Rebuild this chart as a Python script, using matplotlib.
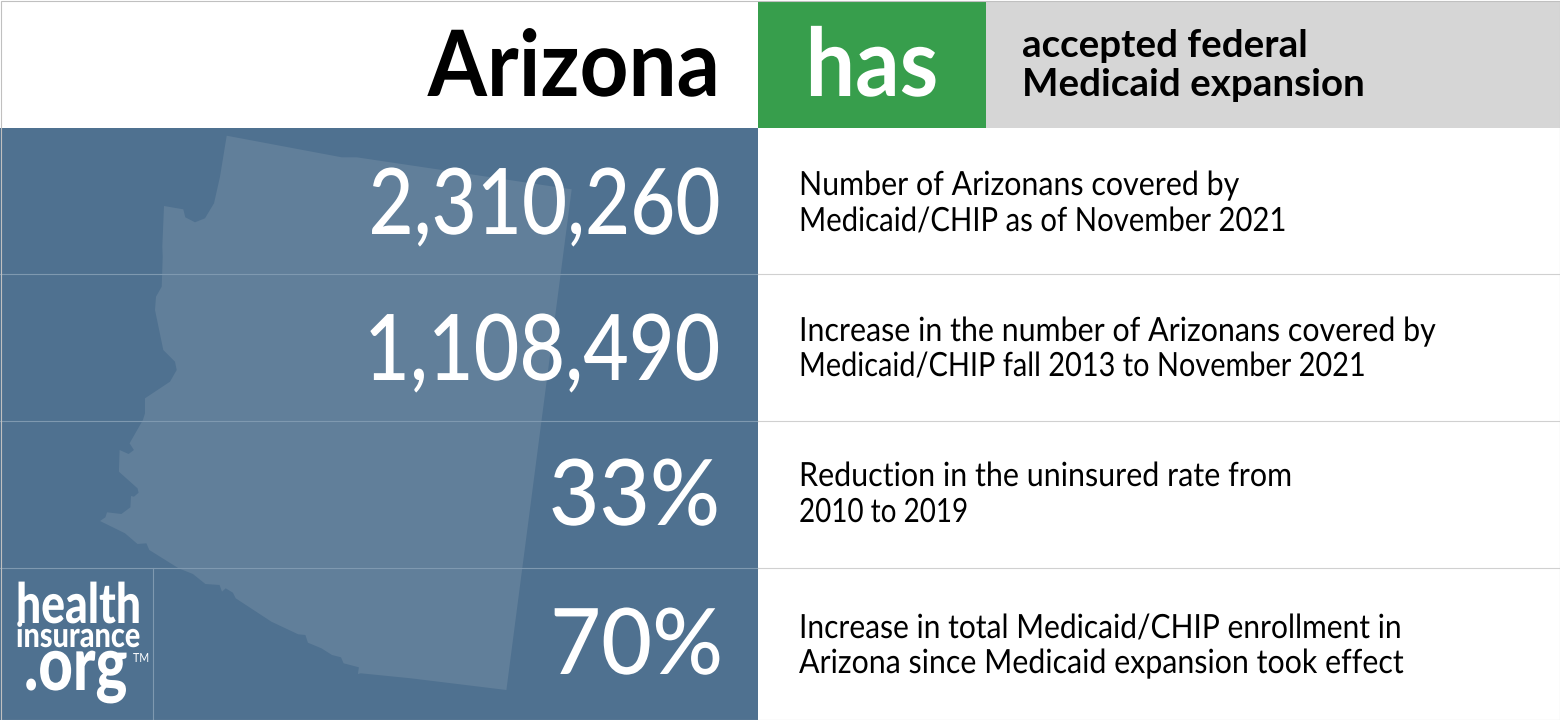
import matplotlib
matplotlib.use("Agg")
import matplotlib.pyplot as plt
from matplotlib.patches import Rectangle, Polygon
from matplotlib.patheffects import AbstractPathEffect
from matplotlib.transforms import Affine2D

W, H = 1560, 720
BLUE, MAP, GREEN, GREY = "#4f7190", "#617f9a", "#379e4c", "#d6d6d6"

state_name = "Arizona"
status = "has"
status_text = ["accepted federal", "Medicaid expansion"]
stats = ["2,310,260", "1,108,490", "33%", "70%"]
notes = [
    ["Number of Arizonans covered by", "Medicaid/CHIP as of November 2021"],
    ["Increase in the number of Arizonans covered by", "Medicaid/CHIP fall 2013 to November 2021"],
    ["Reduction in the uninsured rate from", "2010 to 2019"],
    ["Increase in total Medicaid/CHIP enrollment in", "Arizona since Medicaid expansion took effect"],
]
outline_x = [226.7,341.7,356.7,571.7,506.4,410.7,360.7,357.9,358.9,343.6,341,332,321.4,307.9,305.4,298.2,271.4,235.7,232.9,225.7,222,219.6,205.4,192.9,178.6,149.3,146.4,137.5,125,100,105.4,107,121.4,130.4,131,134,138.6,137.5,118.9,119.6,128.6,133.9,129.6,142.9,145,145,170,176.7,175,163.3,155,156,161.7,162.7,162.3,164,183.3,185.3,195,205,214,220]
outline_y = [135.7,157.3,157.3,189.3,690,678.3,673.3,674,667.3,663.3,657.3,655,648.3,642.7,635,634.3,621.7,598.3,592.7,588.3,591.7,585,584,574,568.3,550,543.3,544,533.3,521,517.3,512.3,514,507.3,496,496.7,492.7,488.3,471.7,450,454,450,443.3,420,413.3,398.3,381.7,370,361.7,350,310,296.7,286.7,256.7,246.7,206,209.3,217.3,222.3,218.3,203.3,176.7]


class Squeeze(AbstractPathEffect):
    """Narrows real text horizontally about a pixel column (the fonts here have no condensed cut)."""
    def __init__(self, x0, sx):
        super().__init__()
        self.x0, self.sx = x0, sx

    def draw_path(self, renderer, gc, tpath, affine, rgbFace=None):
        a = affine + Affine2D().translate(-self.x0, 0).scale(self.sx, 1).translate(self.x0, 0)
        renderer.draw_path(gc, tpath, a, rgbFace)


fig = plt.figure(figsize=(W/100, H/100), dpi=100, facecolor="white")
ax = fig.add_axes([0, 0, 1, 1])
ax.set_xlim(0, W); ax.set_ylim(H, 0); ax.axis("off")

def rect(x, y, w, h, c, z=1):
    ax.add_patch(Rectangle((x, y), w, h, fc=c, ec="none", zorder=z))

def label(x, y, s, size, color="black", weight="normal", ha="left", sx=None):
    t = ax.text(x, y, s, ha=ha, va="baseline", fontsize=size, fontweight=weight,
                color=color, family="Lato", zorder=5)
    if sx:
        t.set_path_effects([Squeeze(x, sx)])
    return t

rect(0, 128, 758, 592, BLUE)
rect(758, 1, 228, 127, GREEN)
rect(986, 1, 574, 127, GREY)
ax.add_patch(Polygon(list(zip(outline_x, outline_y)), closed=True, fc=MAP, ec="none", zorder=2))

for y in [274, 421, 568]:
    ax.plot([0, 758], [y, y], color="#7f99b0", lw=0.8, zorder=3)
    ax.plot([758, W], [y, y], color="#d0d0d0", lw=0.8, zorder=3)
ax.plot([152.5, 152.5], [568, 720], color="#7f99b0", lw=0.8, zorder=3)
ax.add_patch(Rectangle((0.5, 0.5), W-1, H-1, fc="none", ec="#c0c0c0", lw=0.8, zorder=6))

label(720, 96, state_name, 66, weight="bold", ha="right", sx=0.93)
label(872, 96, status, 68, color="white", weight="bold", ha="center", sx=0.93)
for y, s in zip([57, 96], status_text):
    label(1022, y, s, 27.7, weight="bold")

stat_base = [234, 380, 525, 674]
stat_squeeze = [0.85, 0.86, 0.95, 0.96]
stat_right = [720, 720, 720, 723]
for x, y, s, sx in zip(stat_right, stat_base, stats, stat_squeeze):
    label(x, y, s, 66, color="white", weight="medium", ha="right", sx=sx)

note_base = [(195, 231), (341, 376), (486, 522), (638, 673)]
note_squeeze = [(0.911, 0.879), (0.911, 0.867), (0.913, 0.835), (0.899, 0.910)]
for (y1, y2), (s1, s2), lines in zip(note_base, note_squeeze, notes):
    label(799, y1, lines[0], 24, sx=s1)
    label(799, y2, lines[1], 24, sx=s2)

label(16, 623, "health", 40, color="white", weight="black", sx=0.8)
label(16, 647, "insurance", 25, color="white", weight="black", sx=0.83)
label(24, 690, ".org", 54, color="white", weight="black", sx=0.8)
label(133, 662, "TM", 9, color="white", sx=0.85)

fig.savefig("out.png", dpi=100, facecolor="white")
